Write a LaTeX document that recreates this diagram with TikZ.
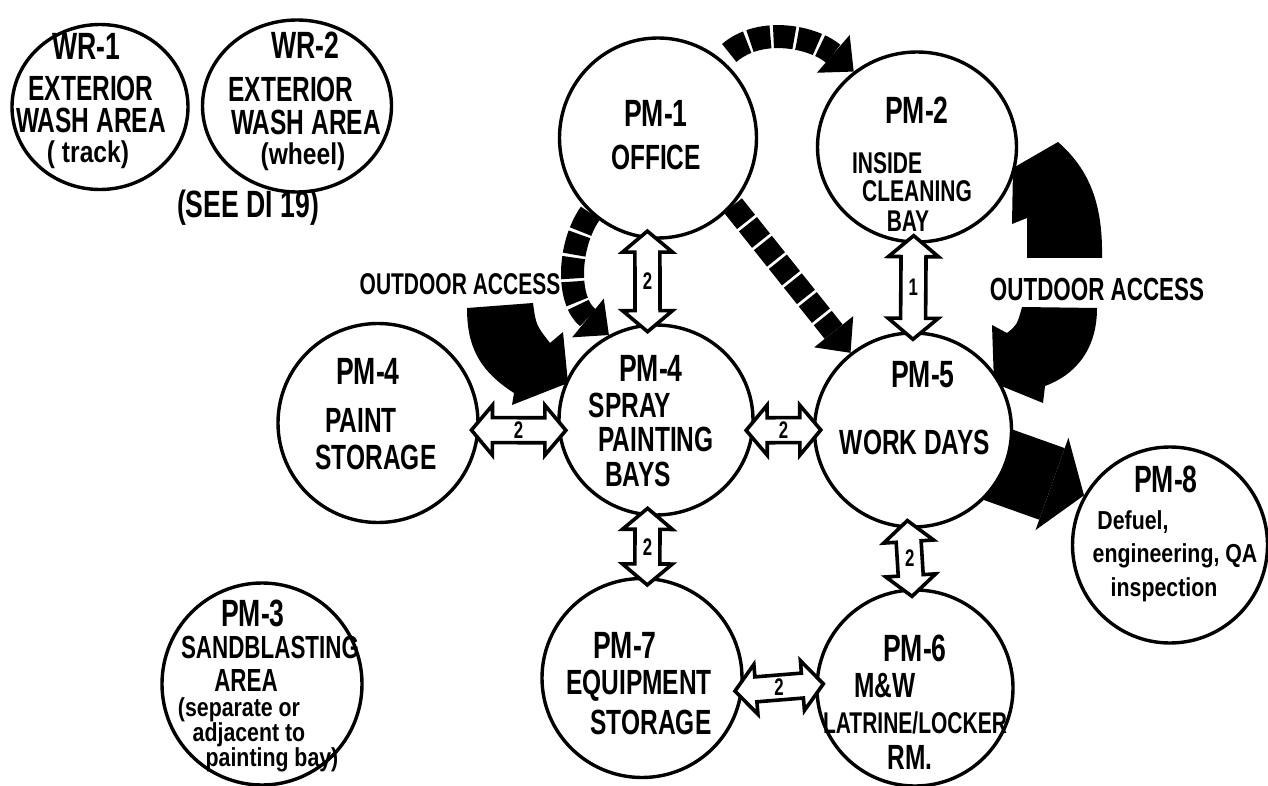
\documentclass[tikz,border=0pt]{standalone}
\usepackage{fontspec}
\newfontfamily\hand[FakeStretch=0.7]{Liberation Sans}
\newfontfamily\handl[FakeStretch=0.82]{Liberation Sans}
\newcommand\szT{\hand\bfseries\fontsize{38}{38}\selectfont}
\newcommand\szB{\hand\bfseries\fontsize{35}{35}\selectfont}
\newcommand\szM{\hand\bfseries\fontsize{32}{32}\selectfont}
\newcommand\szN{\hand\bfseries\fontsize{30}{30}\selectfont}
\newcommand\szS{\handl\bfseries\fontsize{30}{30}\selectfont}
\newcommand\szL{\handl\bfseries\fontsize{26}{26}\selectfont}
\newcommand\szA{\hand\bfseries\fontsize{24}{24}\selectfont}
\usetikzlibrary{arrows.meta,calc,shapes.geometric,backgrounds}
\tikzset{
  room/.style={draw,ellipse,line width=3.4pt,fill=white,inner sep=0pt},
  lab/.style={inner sep=0pt,align=center},
  hollow/.style={draw,line width=3.6pt,fill=white},
  dasharr/.style={line width=23pt,dash pattern=on 21pt off 3pt,-{Triangle[width=50pt,length=27pt,line width=0pt]}},
  fat/.style={line width=76pt,-{Triangle[width=98pt,length=34pt,line width=0pt]}},
}
% hollow two-way arrow between two rooms
\newcommand\twoway[4]{%
  \coordinate (s) at ($(#1)!-8pt!(#2)$);
  \coordinate (e) at ($(#2)!-8pt!(#1)$);
  \draw[hollow] (s) -- ($(s)!21pt!(e)!25pt!90:(e)$) -- ($(s)!21pt!(e)!12.5pt!90:(e)$)
    -- ($(e)!21pt!(s)!12.5pt!-90:(s)$) -- ($(e)!21pt!(s)!25pt!-90:(s)$) -- (e)
    -- ($(e)!21pt!(s)!25pt!90:(s)$) -- ($(e)!21pt!(s)!12.5pt!90:(s)$)
    -- ($(s)!21pt!(e)!12.5pt!-90:(e)$) -- ($(s)!21pt!(e)!25pt!-90:(e)$) -- cycle;
  \node[lab,font=\szA] (#4) at ($(s)!.5!(e)$) {#3};
}

\begin{document}
\begin{tikzpicture}[x=1pt,y=-1pt]
\useasboundingbox (0,0) rectangle (1268,786);
% rooms
\foreach \n/\x/\y/\w/\h in {wr1/100/107/176/165, wr2/297/106/189/172, pm1/658/138/197/200,
  pm2/917/147/199/190, pm4a/378/423/200/199, pm4b/656/420/194/190, pm5/913/430/197/194,
  pm8/1170/545/195/196, pm3/262/684/200/202, pm7/642/678/200/199, pm6/915/688/196/196}
  \node[room,minimum width=\w pt,minimum height=\h pt] (\n) at (\x,\y) {};
% lettering
\foreach \x/\y/\fnt/\lbl [count=\i] in {
  86/46/\szT/WR-1, 91/88/\szB/EXTERIOR, 91/120/\szB/WASH AREA, 88/155/\szS/( track),
  305/45/\szT/WR-2, 291/89/\szB/EXTERIOR, 306/122/\szB/WASH AREA, 303/157/\szS/(wheel),
  248/208/\szT/(SEE DI 19),
  656/113/\szT/PM-1, 656/157/\szB/OFFICE,
  917/110/\szT/PM-2, 887/163/\szN/INSIDE, 917/191/\szN/CLEANING, 908/221/\szN/BAY,
  368/371/\szT/PM-4, 361/420/\szB/PAINT, 376/457/\szB/STORAGE,
  651/368/\szT/PM-4, 630/405/\szB/SPRAY, 656/439/\szB/PAINTING, 638/474/\szB/BAYS,
  923/375/\szT/PM-5, 915/442/\szB/WORK DAYS,
  1166/479/\szT/PM-8, 1133/522/\szL/{Defuel,}, 1175/556/\szL/{engineering, QA}, 1164/590/\szL/inspection,
  253/613/\szT/PM-3, 270/647/\szM/SANDBLASTING, 246/680/\szM/AREA,
  239/710/\szL/(separate or, 249/735/\szL/adjacent to, 272/760/\szL/painting bay),
  625/645/\szT/PM-7, 639/686/\szB/EQUIPMENT, 651/722/\szB/STORAGE,
  915/648/\szT/PM-6, 885/686/\szB/M\&W, 915/723/\szN/LATRINE\slash LOCKER, 910/757/\szB/RM.,
  460/284/\szN/OUTDOOR ACCESS, 1097/289/\szM/OUTDOOR ACCESS}
  \node[lab,font=\fnt] (t\i) at (\x,\y) {\lbl};
% black arrows behind the rooms
\begin{scope}[on background layer]
\fill[white] (0,0) rectangle (1268,786);
\draw[fat,shorten <=-25pt] (pm5.-22) -- (pm8.150);
\draw[dasharr,shorten <=10pt] (pm1.51) .. controls (762,25) and (815,38) .. (pm2.130);
\draw[dasharr] (pm1.228) .. controls (568,245) and (566,300) .. (pm4b.119);
\draw[dasharr] (pm1.-42) -- (pm5.129);
% outdoor access
\fill (467,308) -- (533,303) .. controls (536,325) .. (550,343) -- (563,332) -- (568,383)
  -- (512,405) -- (514,393) .. controls (478,370) and (467,345) .. (467,308) -- cycle;
\fill (1027,258) -- (1027,218) -- (1012,224) -- (1013,168) -- (1058,142)
  .. controls (1090,170) and (1103,205) .. (1102,258) -- cycle;
\fill (1022,307) -- (1097,308) .. controls (1097,350) and (1075,375) .. (1045,386)
  -- (1043,403) -- (994,383) -- (992,325) -- (1007,333) .. controls (1017,325) .. (1022,307) -- cycle;
\end{scope}
% two-way links
\twoway{pm1.-96}{pm4b.95}{2}{a1}
\twoway{pm2.-92}{pm5.90}{1}{a2}
\twoway{pm4a.-4}{pm4b.186}{2}{a3}
\twoway{pm4b.-6}{pm5.180}{2}{a4}
\twoway{pm4b.-95}{pm7.87}{2}{a5}
\twoway{pm5.-93}{pm6.92}{2}{a6}
\twoway{pm7.-7}{pm6.178}{2}{a7}
\end{tikzpicture}
\end{document}
